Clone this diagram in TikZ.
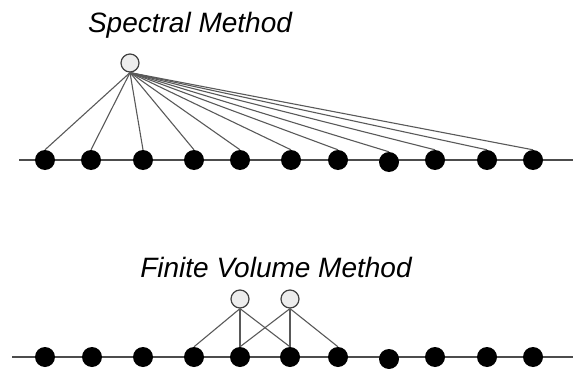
\documentclass[tikz,border=0pt]{standalone}
\usepackage{fontspec}
\setmainfont{Liberation Sans}
\begin{document}
\begin{tikzpicture}[x=1pt,y=-1pt,
  dotnode/.style={circle,fill=black,draw=none,minimum size=20pt,inner sep=0pt},
  srcnode/.style={circle,fill=black!7,draw=black!75,line width=1.2pt,minimum size=18pt,inner sep=0pt},
  axis/.style={draw=black!70,line width=2pt},
  link/.style={draw=black!65,line width=1.1pt},
  title/.style={font=\fontsize{28}{30}\selectfont\itshape,anchor=base,inner sep=0pt}]
\useasboundingbox (0,0) rectangle (573,369);
% top
\node[title] (t1) at (190,33) {Spectral Method};
\coordinate (a1) at (19,160);
\coordinate (a2) at (573,160);
\draw[axis] (a1) -- (a2);
\foreach \i/\x/\y in {1/45/160,2/91/160,3/143/160,4/194/160,5/240/160,6/291/160,7/338/160,8/389/162,9/435/160,10/487/160,11/533/160}{
  \node[dotnode] (s\i) at (\x,\y) {};
}
\node[srcnode] (S) at (130,63) {};
\foreach \i in {1,...,11}{
  \draw[link] (S.south) -- (s\i.north);
}
% bottom
\node[title] (t2) at (276,277) {Finite Volume Method};
\coordinate (b1) at (12,357);
\coordinate (b2) at (573,357);
\draw[axis] (b1) -- (b2);
\foreach \i/\x/\y in {1/45/357,2/92/357,3/143/357,4/194/357,5/240/357,6/290/357,7/338/357,8/389/359,9/435/357,10/487/357,11/533/357}{
  \node[dotnode] (f\i) at (\x,\y) {};
}
\node[srcnode] (F1) at (240,299) {};
\node[srcnode] (F2) at (290,299) {};
\foreach \i in {4,5,6}{ \draw[link] (F1.south) -- (f\i.north); }
\foreach \i in {5,6,7}{ \draw[link] (F2.south) -- (f\i.north); }
\end{tikzpicture}
\end{document}
